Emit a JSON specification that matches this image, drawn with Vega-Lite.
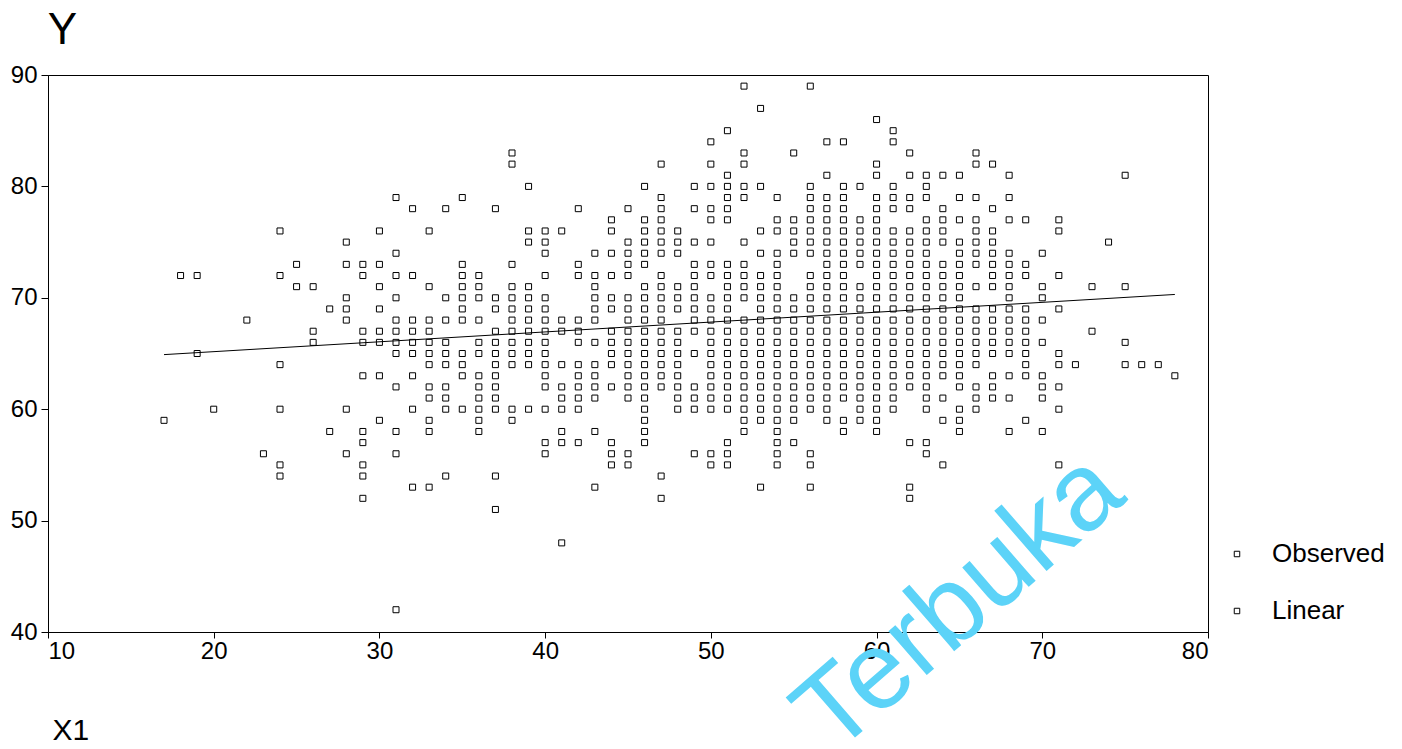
{
  "$schema": "https://vega.github.io/schema/vega-lite/v6.json",
  "autosize": {"type": "none"},
  "padding": {"left": 48, "top": 75, "right": 194, "bottom": 117},
  "width": 1160,
  "height": 557,
  "background": "white",
  "config": {
    "view": {"stroke": "#000", "strokeWidth": 1},
    "font": "Liberation Sans"
  },
  "datasets": {
    "obs": [
      {"x":17,"y":59},{"x":18,"y":72},{"x":19,"y":72},{"x":19,"y":65},{"x":20,"y":60},{"x":22,"y":68},{"x":23,"y":56},
      {"x":24,"y":76},{"x":24,"y":72},{"x":24,"y":64},{"x":24,"y":60},{"x":24,"y":55},{"x":24,"y":54},
      {"x":25,"y":73},{"x":25,"y":71},{"x":26,"y":71},{"x":26,"y":67},{"x":26,"y":66},{"x":27,"y":69},{"x":27,"y":58},
      {"x":28,"y":75},{"x":28,"y":73},{"x":28,"y":70},{"x":28,"y":69},{"x":28,"y":68},{"x":28,"y":60},{"x":28,"y":56},
      {"x":29,"y":73},{"x":29,"y":72},{"x":29,"y":67},{"x":29,"y":66},{"x":29,"y":63},{"x":29,"y":58},{"x":29,"y":57},{"x":29,"y":55},{"x":29,"y":54},{"x":29,"y":52},
      {"x":30,"y":76},{"x":30,"y":73},{"x":30,"y":71},{"x":30,"y":69},{"x":30,"y":67},{"x":30,"y":66},{"x":30,"y":63},{"x":30,"y":59},
      {"x":31,"y":79},{"x":31,"y":74},{"x":31,"y":72},{"x":31,"y":70},{"x":31,"y":68},{"x":31,"y":67},{"x":31,"y":66},{"x":31,"y":65},{"x":31,"y":62},{"x":31,"y":58},{"x":31,"y":56},{"x":31,"y":42},
      {"x":32,"y":78},{"x":32,"y":72},{"x":32,"y":68},{"x":32,"y":67},{"x":32,"y":66},{"x":32,"y":65},{"x":32,"y":63},{"x":32,"y":60},{"x":32,"y":53},
      {"x":33,"y":76},{"x":33,"y":71},{"x":33,"y":68},{"x":33,"y":67},{"x":33,"y":66},{"x":33,"y":65},{"x":33,"y":64},{"x":33,"y":62},{"x":33,"y":61},{"x":33,"y":59},{"x":33,"y":58},{"x":33,"y":53},
      {"x":34,"y":78},{"x":34,"y":70},{"x":34,"y":68},{"x":34,"y":66},{"x":34,"y":65},{"x":34,"y":64},{"x":34,"y":62},{"x":34,"y":61},{"x":34,"y":60},{"x":34,"y":54},
      {"x":35,"y":79},{"x":35,"y":73},{"x":35,"y":72},{"x":35,"y":71},{"x":35,"y":70},{"x":35,"y":69},{"x":35,"y":68},{"x":35,"y":65},{"x":35,"y":64},{"x":35,"y":63},{"x":35,"y":60},
      {"x":36,"y":72},{"x":36,"y":71},{"x":36,"y":70},{"x":36,"y":68},{"x":36,"y":66},{"x":36,"y":65},{"x":36,"y":63},{"x":36,"y":62},{"x":36,"y":61},{"x":36,"y":60},{"x":36,"y":59},{"x":36,"y":58},
      {"x":37,"y":78},{"x":37,"y":70},{"x":37,"y":69},{"x":37,"y":67},{"x":37,"y":66},{"x":37,"y":65},{"x":37,"y":64},{"x":37,"y":63},{"x":37,"y":62},{"x":37,"y":61},{"x":37,"y":60},{"x":37,"y":54},{"x":37,"y":51},
      {"x":38,"y":83},{"x":38,"y":82},{"x":38,"y":73},{"x":38,"y":71},{"x":38,"y":70},{"x":38,"y":69},{"x":38,"y":68},{"x":38,"y":67},{"x":38,"y":66},{"x":38,"y":65},{"x":38,"y":64},{"x":38,"y":60},{"x":38,"y":59},
      {"x":39,"y":80},{"x":39,"y":76},{"x":39,"y":75},{"x":39,"y":71},{"x":39,"y":70},{"x":39,"y":69},{"x":39,"y":68},{"x":39,"y":67},{"x":39,"y":66},{"x":39,"y":65},{"x":39,"y":64},{"x":39,"y":60},
      {"x":40,"y":76},{"x":40,"y":75},{"x":40,"y":74},{"x":40,"y":72},{"x":40,"y":70},{"x":40,"y":69},{"x":40,"y":68},{"x":40,"y":67},{"x":40,"y":66},{"x":40,"y":65},{"x":40,"y":64},{"x":40,"y":63},{"x":40,"y":62},{"x":40,"y":60},{"x":40,"y":57},{"x":40,"y":56},
      {"x":41,"y":76},{"x":41,"y":68},{"x":41,"y":67},{"x":41,"y":64},{"x":41,"y":62},{"x":41,"y":61},{"x":41,"y":60},{"x":41,"y":58},{"x":41,"y":57},{"x":41,"y":48},
      {"x":42,"y":78},{"x":42,"y":73},{"x":42,"y":72},{"x":42,"y":68},{"x":42,"y":67},{"x":42,"y":66},{"x":42,"y":64},{"x":42,"y":63},{"x":42,"y":62},{"x":42,"y":61},{"x":42,"y":60},{"x":42,"y":57},
      {"x":43,"y":74},{"x":43,"y":72},{"x":43,"y":71},{"x":43,"y":70},{"x":43,"y":69},{"x":43,"y":68},{"x":43,"y":66},{"x":43,"y":64},{"x":43,"y":63},{"x":43,"y":62},{"x":43,"y":61},{"x":43,"y":58},{"x":43,"y":53},
      {"x":44,"y":77},{"x":44,"y":76},{"x":44,"y":74},{"x":44,"y":72},{"x":44,"y":70},{"x":44,"y":69},{"x":44,"y":67},{"x":44,"y":66},{"x":44,"y":65},{"x":44,"y":64},{"x":44,"y":62},{"x":44,"y":57},{"x":44,"y":56},{"x":44,"y":55},
      {"x":45,"y":78},{"x":45,"y":75},{"x":45,"y":74},{"x":45,"y":73},{"x":45,"y":72},{"x":45,"y":70},{"x":45,"y":69},{"x":45,"y":68},{"x":45,"y":67},{"x":45,"y":66},{"x":45,"y":65},{"x":45,"y":64},{"x":45,"y":63},{"x":45,"y":62},{"x":45,"y":61},{"x":45,"y":56},{"x":45,"y":55},
      {"x":46,"y":80},{"x":46,"y":77},{"x":46,"y":76},{"x":46,"y":75},{"x":46,"y":74},{"x":46,"y":73},{"x":46,"y":71},{"x":46,"y":70},{"x":46,"y":69},{"x":46,"y":68},{"x":46,"y":67},{"x":46,"y":66},{"x":46,"y":65},{"x":46,"y":64},{"x":46,"y":63},{"x":46,"y":62},{"x":46,"y":61},{"x":46,"y":60},{"x":46,"y":59},{"x":46,"y":58},{"x":46,"y":57},
      {"x":47,"y":82},{"x":47,"y":79},{"x":47,"y":78},{"x":47,"y":77},{"x":47,"y":76},{"x":47,"y":75},{"x":47,"y":74},{"x":47,"y":72},{"x":47,"y":71},{"x":47,"y":70},{"x":47,"y":69},{"x":47,"y":68},{"x":47,"y":67},{"x":47,"y":66},{"x":47,"y":65},{"x":47,"y":64},{"x":47,"y":63},{"x":47,"y":62},{"x":47,"y":54},{"x":47,"y":52},
      {"x":48,"y":76},{"x":48,"y":75},{"x":48,"y":74},{"x":48,"y":71},{"x":48,"y":70},{"x":48,"y":69},{"x":48,"y":67},{"x":48,"y":66},{"x":48,"y":65},{"x":48,"y":64},{"x":48,"y":63},{"x":48,"y":62},{"x":48,"y":61},{"x":48,"y":60},
      {"x":49,"y":80},{"x":49,"y":78},{"x":49,"y":75},{"x":49,"y":73},{"x":49,"y":72},{"x":49,"y":71},{"x":49,"y":70},{"x":49,"y":69},{"x":49,"y":68},{"x":49,"y":67},{"x":49,"y":65},{"x":49,"y":62},{"x":49,"y":61},{"x":49,"y":60},{"x":49,"y":56},
      {"x":50,"y":84},{"x":50,"y":82},{"x":50,"y":80},{"x":50,"y":78},{"x":50,"y":77},{"x":50,"y":75},{"x":50,"y":73},{"x":50,"y":72},{"x":50,"y":70},{"x":50,"y":69},{"x":50,"y":68},{"x":50,"y":67},{"x":50,"y":66},{"x":50,"y":65},{"x":50,"y":64},{"x":50,"y":63},{"x":50,"y":62},{"x":50,"y":61},{"x":50,"y":60},{"x":50,"y":56},{"x":50,"y":55},
      {"x":51,"y":85},{"x":51,"y":81},{"x":51,"y":80},{"x":51,"y":79},{"x":51,"y":78},{"x":51,"y":77},{"x":51,"y":73},{"x":51,"y":72},{"x":51,"y":71},{"x":51,"y":70},{"x":51,"y":69},{"x":51,"y":68},{"x":51,"y":67},{"x":51,"y":66},{"x":51,"y":65},{"x":51,"y":64},{"x":51,"y":63},{"x":51,"y":62},{"x":51,"y":61},{"x":51,"y":60},{"x":51,"y":57},{"x":51,"y":56},{"x":51,"y":55},
      {"x":52,"y":89},{"x":52,"y":83},{"x":52,"y":82},{"x":52,"y":80},{"x":52,"y":79},{"x":52,"y":75},{"x":52,"y":73},{"x":52,"y":72},{"x":52,"y":71},{"x":52,"y":70},{"x":52,"y":68},{"x":52,"y":67},{"x":52,"y":66},{"x":52,"y":65},{"x":52,"y":64},{"x":52,"y":63},{"x":52,"y":62},{"x":52,"y":61},{"x":52,"y":60},{"x":52,"y":59},{"x":52,"y":58},
      {"x":53,"y":87},{"x":53,"y":80},{"x":53,"y":76},{"x":53,"y":74},{"x":53,"y":72},{"x":53,"y":71},{"x":53,"y":70},{"x":53,"y":69},{"x":53,"y":68},{"x":53,"y":67},{"x":53,"y":66},{"x":53,"y":65},{"x":53,"y":64},{"x":53,"y":63},{"x":53,"y":62},{"x":53,"y":61},{"x":53,"y":60},{"x":53,"y":59},{"x":53,"y":53},
      {"x":54,"y":79},{"x":54,"y":77},{"x":54,"y":76},{"x":54,"y":74},{"x":54,"y":73},{"x":54,"y":72},{"x":54,"y":71},{"x":54,"y":70},{"x":54,"y":69},{"x":54,"y":68},{"x":54,"y":67},{"x":54,"y":66},{"x":54,"y":65},{"x":54,"y":64},{"x":54,"y":63},{"x":54,"y":62},{"x":54,"y":61},{"x":54,"y":60},{"x":54,"y":59},{"x":54,"y":58},{"x":54,"y":57},{"x":54,"y":56},{"x":54,"y":55},
      {"x":55,"y":83},{"x":55,"y":77},{"x":55,"y":76},{"x":55,"y":75},{"x":55,"y":74},{"x":55,"y":70},{"x":55,"y":69},{"x":55,"y":68},{"x":55,"y":67},{"x":55,"y":66},{"x":55,"y":65},{"x":55,"y":64},{"x":55,"y":63},{"x":55,"y":62},{"x":55,"y":61},{"x":55,"y":60},{"x":55,"y":59},{"x":55,"y":57},
      {"x":56,"y":89},{"x":56,"y":80},{"x":56,"y":79},{"x":56,"y":78},{"x":56,"y":77},{"x":56,"y":76},{"x":56,"y":75},{"x":56,"y":74},{"x":56,"y":72},{"x":56,"y":71},{"x":56,"y":70},{"x":56,"y":69},{"x":56,"y":68},{"x":56,"y":67},{"x":56,"y":66},{"x":56,"y":65},{"x":56,"y":64},{"x":56,"y":63},{"x":56,"y":62},{"x":56,"y":61},{"x":56,"y":60},{"x":56,"y":56},{"x":56,"y":55},{"x":56,"y":53},
      {"x":57,"y":84},{"x":57,"y":81},{"x":57,"y":79},{"x":57,"y":78},{"x":57,"y":77},{"x":57,"y":76},{"x":57,"y":75},{"x":57,"y":74},{"x":57,"y":73},{"x":57,"y":72},{"x":57,"y":71},{"x":57,"y":70},{"x":57,"y":69},{"x":57,"y":68},{"x":57,"y":67},{"x":57,"y":66},{"x":57,"y":65},{"x":57,"y":64},{"x":57,"y":63},{"x":57,"y":62},{"x":57,"y":61},{"x":57,"y":60},{"x":57,"y":59},
      {"x":58,"y":84},{"x":58,"y":80},{"x":58,"y":79},{"x":58,"y":78},{"x":58,"y":77},{"x":58,"y":76},{"x":58,"y":75},{"x":58,"y":74},{"x":58,"y":73},{"x":58,"y":72},{"x":58,"y":71},{"x":58,"y":70},{"x":58,"y":69},{"x":58,"y":68},{"x":58,"y":67},{"x":58,"y":66},{"x":58,"y":65},{"x":58,"y":64},{"x":58,"y":63},{"x":58,"y":62},{"x":58,"y":61},{"x":58,"y":59},{"x":58,"y":58},
      {"x":59,"y":80},{"x":59,"y":77},{"x":59,"y":76},{"x":59,"y":75},{"x":59,"y":74},{"x":59,"y":73},{"x":59,"y":71},{"x":59,"y":70},{"x":59,"y":69},{"x":59,"y":68},{"x":59,"y":67},{"x":59,"y":66},{"x":59,"y":65},{"x":59,"y":64},{"x":59,"y":63},{"x":59,"y":62},{"x":59,"y":61},{"x":59,"y":60},{"x":59,"y":59},
      {"x":60,"y":86},{"x":60,"y":82},{"x":60,"y":81},{"x":60,"y":79},{"x":60,"y":78},{"x":60,"y":77},{"x":60,"y":76},{"x":60,"y":75},{"x":60,"y":74},{"x":60,"y":73},{"x":60,"y":72},{"x":60,"y":71},{"x":60,"y":70},{"x":60,"y":69},{"x":60,"y":68},{"x":60,"y":67},{"x":60,"y":66},{"x":60,"y":65},{"x":60,"y":64},{"x":60,"y":63},{"x":60,"y":62},{"x":60,"y":61},{"x":60,"y":60},{"x":60,"y":59},{"x":60,"y":58},
      {"x":61,"y":85},{"x":61,"y":84},{"x":61,"y":80},{"x":61,"y":79},{"x":61,"y":78},{"x":61,"y":76},{"x":61,"y":75},{"x":61,"y":74},{"x":61,"y":73},{"x":61,"y":72},{"x":61,"y":71},{"x":61,"y":70},{"x":61,"y":69},{"x":61,"y":68},{"x":61,"y":67},{"x":61,"y":66},{"x":61,"y":65},{"x":61,"y":64},{"x":61,"y":63},{"x":61,"y":62},{"x":61,"y":61},{"x":61,"y":60},
      {"x":62,"y":83},{"x":62,"y":81},{"x":62,"y":79},{"x":62,"y":78},{"x":62,"y":76},{"x":62,"y":75},{"x":62,"y":74},{"x":62,"y":73},{"x":62,"y":72},{"x":62,"y":71},{"x":62,"y":70},{"x":62,"y":69},{"x":62,"y":68},{"x":62,"y":67},{"x":62,"y":66},{"x":62,"y":65},{"x":62,"y":64},{"x":62,"y":63},{"x":62,"y":62},{"x":62,"y":57},{"x":62,"y":53},{"x":62,"y":52},
      {"x":63,"y":81},{"x":63,"y":80},{"x":63,"y":79},{"x":63,"y":77},{"x":63,"y":76},{"x":63,"y":75},{"x":63,"y":74},{"x":63,"y":73},{"x":63,"y":72},{"x":63,"y":71},{"x":63,"y":70},{"x":63,"y":69},{"x":63,"y":68},{"x":63,"y":67},{"x":63,"y":66},{"x":63,"y":65},{"x":63,"y":64},{"x":63,"y":63},{"x":63,"y":62},{"x":63,"y":61},{"x":63,"y":60},{"x":63,"y":57},{"x":63,"y":56},
      {"x":64,"y":81},{"x":64,"y":78},{"x":64,"y":77},{"x":64,"y":76},{"x":64,"y":75},{"x":64,"y":73},{"x":64,"y":72},{"x":64,"y":71},{"x":64,"y":70},{"x":64,"y":69},{"x":64,"y":68},{"x":64,"y":67},{"x":64,"y":66},{"x":64,"y":65},{"x":64,"y":64},{"x":64,"y":63},{"x":64,"y":61},{"x":64,"y":59},{"x":64,"y":55},
      {"x":65,"y":81},{"x":65,"y":79},{"x":65,"y":77},{"x":65,"y":75},{"x":65,"y":74},{"x":65,"y":73},{"x":65,"y":72},{"x":65,"y":71},{"x":65,"y":70},{"x":65,"y":69},{"x":65,"y":68},{"x":65,"y":67},{"x":65,"y":66},{"x":65,"y":65},{"x":65,"y":64},{"x":65,"y":63},{"x":65,"y":62},{"x":65,"y":60},{"x":65,"y":59},{"x":65,"y":58},
      {"x":66,"y":83},{"x":66,"y":82},{"x":66,"y":79},{"x":66,"y":77},{"x":66,"y":76},{"x":66,"y":75},{"x":66,"y":74},{"x":66,"y":73},{"x":66,"y":71},{"x":66,"y":69},{"x":66,"y":68},{"x":66,"y":67},{"x":66,"y":66},{"x":66,"y":65},{"x":66,"y":64},{"x":66,"y":62},{"x":66,"y":61},{"x":66,"y":60},
      {"x":67,"y":82},{"x":67,"y":78},{"x":67,"y":76},{"x":67,"y":75},{"x":67,"y":74},{"x":67,"y":73},{"x":67,"y":72},{"x":67,"y":71},{"x":67,"y":69},{"x":67,"y":68},{"x":67,"y":67},{"x":67,"y":66},{"x":67,"y":65},{"x":67,"y":63},{"x":67,"y":62},{"x":67,"y":61},
      {"x":68,"y":81},{"x":68,"y":79},{"x":68,"y":77},{"x":68,"y":74},{"x":68,"y":73},{"x":68,"y":72},{"x":68,"y":71},{"x":68,"y":70},{"x":68,"y":69},{"x":68,"y":68},{"x":68,"y":67},{"x":68,"y":66},{"x":68,"y":65},{"x":68,"y":63},{"x":68,"y":61},{"x":68,"y":58},
      {"x":69,"y":77},{"x":69,"y":73},{"x":69,"y":72},{"x":69,"y":69},{"x":69,"y":68},{"x":69,"y":67},{"x":69,"y":66},{"x":69,"y":65},{"x":69,"y":64},{"x":69,"y":63},{"x":69,"y":59},
      {"x":70,"y":74},{"x":70,"y":71},{"x":70,"y":70},{"x":70,"y":68},{"x":70,"y":66},{"x":70,"y":63},{"x":70,"y":62},{"x":70,"y":61},{"x":70,"y":58},
      {"x":71,"y":77},{"x":71,"y":76},{"x":71,"y":72},{"x":71,"y":69},{"x":71,"y":65},{"x":71,"y":64},{"x":71,"y":62},{"x":71,"y":60},{"x":71,"y":55},
      {"x":72,"y":64},{"x":73,"y":71},{"x":73,"y":67},{"x":74,"y":75},
      {"x":75,"y":81},{"x":75,"y":71},{"x":75,"y":66},{"x":75,"y":64},{"x":76,"y":64},{"x":77,"y":64},{"x":78,"y":63}
    ],
    "fit": [{"x": 17, "y": 64.9}, {"x": 78, "y": 70.3}],
    "mark": [{"label": "Terbuka"}]
  },
  "layer": [
    {
      "data": {"name": "obs"},
      "transform": [{"calculate": "'Observed'", "as": "series"}],
      "mark": {"type": "point", "shape": "square", "filled": false, "size": 36, "stroke": "#000", "strokeWidth": 1, "opacity": 1},
      "encoding": {
        "x": {"field": "x", "type": "quantitative", "scale": {"domain": [10, 80], "nice": false, "zero": false},
          "axis": {"values": [10, 20, 30, 40, 50, 60, 70, 80], "grid": false, "title": "X1", "labelFontSize": 24, "labelColor": "#000", "labelFont": "Liberation Sans", "tickColor": "#000", "tickSize": 6, "domainColor": "#000", "labelPadding": 1,
            "titleFontSize": 30, "titleFontWeight": "normal", "titleColor": "#000", "titleFont": "Liberation Sans", "titleAnchor": "start", "titleAlign": "left", "titleX": 4, "titleY": 107, "titleBaseline": "alphabetic"}},
        "y": {"field": "y", "type": "quantitative", "scale": {"domain": [40, 90], "nice": false, "zero": false},
          "axis": {"values": [40, 50, 60, 70, 80, 90], "grid": false, "title": "Y", "titleAngle": 0, "titleFontSize": 44, "titleFontWeight": "normal", "titleColor": "#000", "titleFont": "Liberation Sans", "titleX": 14, "titleY": -32, "titleAlign": "center", "titleBaseline": "alphabetic",
            "labelFontSize": 24, "labelColor": "#000", "labelFont": "Liberation Sans", "tickColor": "#000", "tickSize": 7, "domainColor": "#000", "labelPadding": 4}},
        "shape": {"field": "series", "type": "nominal",
          "scale": {"domain": ["Observed", "Linear"], "range": ["square", "square"]},
          "legend": {"title": null, "orient": "none", "legendX": 1176, "legendY": 466, "labelFontSize": 26, "labelFont": "Liberation Sans", "labelColor": "#000", "symbolSize": 30, "symbolStrokeColor": "#000", "symbolFillColor": "#fff", "symbolStrokeWidth": 1, "labelOffset": 22, "rowPadding": 31}}
      }
    },
    {
      "data": {"name": "fit"},
      "mark": {"type": "line", "color": "#000", "strokeWidth": 1},
      "encoding": {
        "x": {"field": "x", "type": "quantitative"},
        "y": {"field": "y", "type": "quantitative"}
      }
    },
    {
      "data": {"name": "mark"},
      "mark": {"type": "text", "angle": -41, "fontSize": 110, "font": "Liberation Sans", "color": "#5cd3f8", "align": "center", "baseline": "middle", "clip": false},
      "encoding": {
        "text": {"field": "label"},
        "x": {"datum": 65.0},
        "y": {"datum": 42.6}
      }
    }
  ]
}
